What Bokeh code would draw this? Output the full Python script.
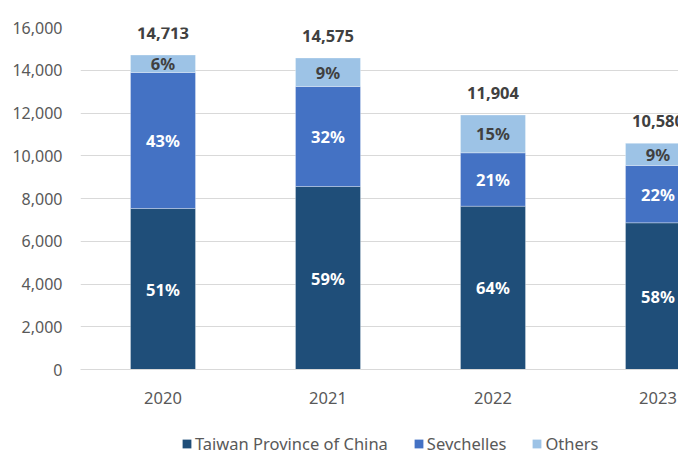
from bokeh.plotting import figure
from bokeh.layouts import column
from bokeh.models import (Range1d, FixedTicker, Legend, LegendItem, ColumnDataSource,
                          NumeralTickFormatter)
from bokeh.core.properties import value
from bokeh.embed import file_html
from bokeh.resources import INLINE

years = ["2020", "2021", "2022", "2023"]
taiwan = [7532, 8561, 7640, 6863]
seychelles = [6363, 4679, 2498, 2681]
others = [818, 1335, 1766, 1036]
totals = [14713, 14575, 11904, 10580]
taiwan_pct = ["51%", "59%", "64%", "58%"]
seychelles_pct = ["43%", "32%", "21%", "22%"]
others_pct = ["6%", "9%", "15%", "9%"]
series_names = ["Taiwan Province of China", "Seychelles", "Others"]

C_TW = "#1F4E79"
C_SY = "#4472C4"
C_OT = "#9DC3E6"
COLORS = [C_TW, C_SY, C_OT]
FONT = "Noto Sans"

xs = [i + 0.5 for i in range(len(years))]

p = figure(width=678, height=414, output_backend="svg", toolbar_location=None,
           x_range=Range1d(0, 598 / 165), y_range=Range1d(0, 16000),
           min_border_left=80, min_border_right=0, min_border_top=27, min_border_bottom=45)
p.outline_line_color = None
p.background_fill_color = "white"
p.border_fill_color = "white"

src = ColumnDataSource(dict(x=xs, tw=taiwan, sy=seychelles, ot=others))
rs = p.vbar_stack(["tw", "sy", "ot"], x="x", width=0.394, source=src,
                  color=COLORS, line_color="white", line_width=0.6, line_alpha=0.5)

# segment labels
lx, ly, lt, lc = [], [], [], []
for i in range(len(years)):
    b0 = 0
    for vals, pcts, col in ((taiwan, taiwan_pct, "white"), (seychelles, seychelles_pct, "white"),
                            (others, others_pct, "#404040")):
        lx.append(xs[i]); ly.append(b0 + vals[i] / 2); lt.append(pcts[i]); lc.append(col)
        b0 += vals[i]
p.text(x=lx, y=ly, text=lt, text_color=lc, text_align="center", text_baseline="middle",
       text_font=value(FONT), text_font_size="16.5px", text_font_style="bold")

# totals
tops = [a + b + c for a, b, c in zip(taiwan, seychelles, others)]
p.text(x=xs, y=tops, text=[f"{t:,}" for t in totals], text_color="#404040",
       text_align="center", text_baseline="middle", y_offset=-22,
       text_font=value(FONT), text_font_size="16.5px", text_font_style="bold")

# axes
p.xaxis.ticker = FixedTicker(ticks=xs)
p.xaxis.major_label_overrides = {x: y for x, y in zip(xs, years)}
p.xaxis.axis_line_color = "#D9D9D9"
p.xaxis.major_tick_line_color = None
p.xaxis.minor_tick_line_color = None
p.xaxis.major_tick_out = 0
p.xaxis.minor_tick_out = 0
p.xaxis.major_label_standoff = 22
p.xaxis.major_label_text_font = FONT
p.xaxis.major_label_text_font_size = "16.5px"
p.xaxis.major_label_text_color = "#595959"

p.yaxis.ticker = FixedTicker(ticks=list(range(0, 16001, 2000)))
p.yaxis.formatter = NumeralTickFormatter(format="0,0")
p.yaxis.axis_line_color = None
p.yaxis.major_tick_line_color = None
p.yaxis.minor_tick_line_color = None
p.yaxis.major_tick_out = 0
p.yaxis.minor_tick_out = 0
p.yaxis.major_label_standoff = 18
p.yaxis.major_label_text_font = FONT
p.yaxis.major_label_text_font_size = "16px"
p.yaxis.major_label_text_color = "#595959"

p.xgrid.grid_line_color = None
p.ygrid.ticker = FixedTicker(ticks=list(range(0, 16001, 2000)))
p.ygrid.grid_line_color = "#D9D9D9"
p.ygrid.grid_line_width = 1

# legend strip (frame aligned with the main plot's frame by the column layout)
lf = figure(width=678, height=36, output_backend="svg", toolbar_location=None,
            x_range=Range1d(0, 1), y_range=Range1d(0, 1), x_axis_type=None, y_axis_type=None,
            min_border_left=0, min_border_right=0, min_border_top=0, min_border_bottom=0)
lf.outline_line_color = None
lf.xgrid.grid_line_color = None
lf.ygrid.grid_line_color = None
lf.background_fill_color = "white"
lf.border_fill_color = "white"
items = []
for name, col in zip(series_names, COLORS):
    r = lf.vbar(x=[0.5], top=[0], bottom=[0], width=0.0, fill_color=col, line_color=None)
    items.append(LegendItem(label=name, renderers=[r]))
legend = Legend(items=items, orientation="horizontal", location=(101, -5),
                glyph_width=11, glyph_height=11, label_standoff=3, spacing=25,
                label_text_font=FONT, label_text_font_size="16.5px", label_text_color="#595959",
                border_line_color=None, background_fill_alpha=0, padding=0, margin=0)
lf.add_layout(legend, "center")

open("out.html", "w").write(file_html(column(p, lf, spacing=0), INLINE))
